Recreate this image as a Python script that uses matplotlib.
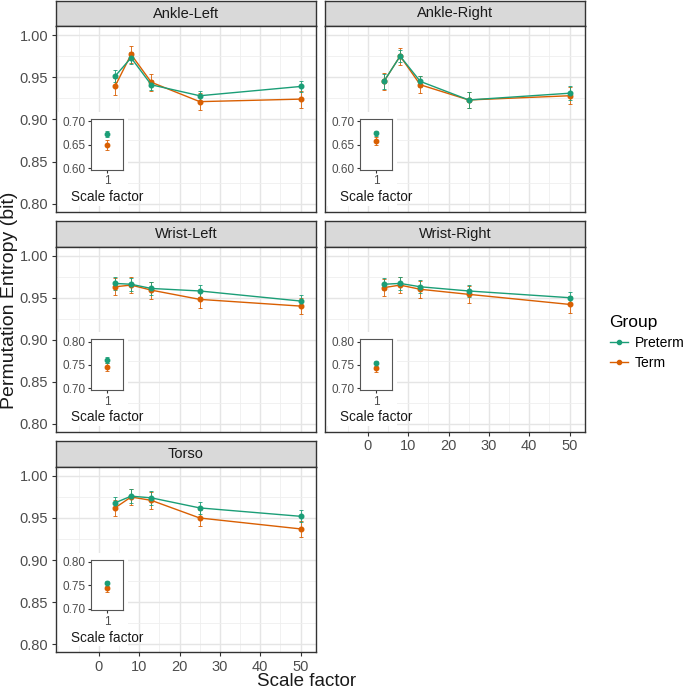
import matplotlib
matplotlib.use("Agg")
import matplotlib.pyplot as plt
from matplotlib.patches import Rectangle
from matplotlib.lines import Line2D
from matplotlib.ticker import MultipleLocator, FixedLocator

plt.rcParams['font.family'] = ['Liberation Sans', 'DejaVu Sans']

# ---------------- data ----------------
panels = ["Ankle-Left", "Ankle-Right", "Wrist-Left", "Wrist-Right", "Torso"]
groups = ["Preterm", "Term"]
scales = [4, 8, 13, 25, 50]

main_pre = {
    "Ankle-Left":  [0.951, 0.973, 0.941, 0.928, 0.939],
    "Ankle-Right": [0.945, 0.975, 0.945, 0.923, 0.931],
    "Wrist-Left":  [0.967, 0.966, 0.961, 0.958, 0.946],
    "Wrist-Right": [0.966, 0.967, 0.963, 0.958, 0.950],
    "Torso":       [0.968, 0.976, 0.974, 0.962, 0.952],
}
main_term = {
    "Ankle-Left":  [0.939, 0.977, 0.944, 0.921, 0.924],
    "Ankle-Right": [0.945, 0.975, 0.941, 0.923, 0.928],
    "Wrist-Left":  [0.963, 0.965, 0.959, 0.948, 0.940],
    "Wrist-Right": [0.962, 0.965, 0.960, 0.954, 0.942],
    "Torso":       [0.962, 0.975, 0.971, 0.950, 0.937],
}
err_pre = {
    "Ankle-Left":  [0.007, 0.007, 0.006, 0.006, 0.007],
    "Ankle-Right": [0.009, 0.007, 0.007, 0.009, 0.008],
    "Wrist-Left":  [0.008, 0.008, 0.008, 0.007, 0.007],
    "Wrist-Right": [0.007, 0.008, 0.008, 0.007, 0.007],
    "Torso":       [0.007, 0.008, 0.008, 0.007, 0.007],
}
err_term = {
    "Ankle-Left":  [0.010, 0.010, 0.010, 0.010, 0.010],
    "Ankle-Right": [0.010, 0.010, 0.010, 0.010, 0.010],
    "Wrist-Left":  [0.010, 0.010, 0.010, 0.010, 0.010],
    "Wrist-Right": [0.010, 0.010, 0.010, 0.010, 0.010],
    "Torso":       [0.010, 0.010, 0.010, 0.010, 0.010],
}
inset_scale = [1]
inset_pre = {"Ankle-Left": 0.673, "Ankle-Right": 0.674, "Wrist-Left": 0.761,
             "Wrist-Right": 0.753, "Torso": 0.754}
inset_term = {"Ankle-Left": 0.649, "Ankle-Right": 0.658, "Wrist-Left": 0.746,
              "Wrist-Right": 0.744, "Torso": 0.745}
inset_err_pre = {"Ankle-Left": 0.006, "Ankle-Right": 0.006, "Wrist-Left": 0.006,
                 "Wrist-Right": 0.006, "Torso": 0.006}
inset_err_term = {"Ankle-Left": 0.010, "Ankle-Right": 0.009, "Wrist-Left": 0.009,
                  "Wrist-Right": 0.009, "Torso": 0.009}
inset_ticks = {"Ankle-Left": [0.60, 0.65, 0.70], "Ankle-Right": [0.60, 0.65, 0.70],
               "Wrist-Left": [0.70, 0.75, 0.80], "Wrist-Right": [0.70, 0.75, 0.80],
               "Torso": [0.70, 0.75, 0.80]}
main_yticks = [0.80, 0.85, 0.90, 0.95, 1.00]
main_xticks = [0, 10, 20, 30, 40, 50]

colors = {"Preterm": "#1B9E77", "Term": "#D95F02"}

# ---------------- layout ----------------
W, H = 685, 691
fig = plt.figure(figsize=(W / 100, H / 100), dpi=100)

cols = [(56, 316), (325, 585)]
rows = [(1, 26, 211.7), (221, 246.7, 431.7), (441, 467, 652)]
pos = {"Ankle-Left": (0, 0), "Ankle-Right": (0, 1), "Wrist-Left": (1, 0),
       "Wrist-Right": (1, 1), "Torso": (2, 0)}

def fax(x0, y0, x1, y1):
    return fig.add_axes([x0 / W, 1 - y1 / H, (x1 - x0) / W, (y1 - y0) / H])

dark = "#333333"
tickc = "#4D4D4D"

for name in panels:
    r, c = pos[name]
    x0, x1 = cols[c]
    sy0, py0, py1 = rows[r]
    # strip
    sax = fax(x0, sy0, x1, py0)
    sax.set_facecolor("#D9D9D9")
    sax.set_xticks([]); sax.set_yticks([])
    for s in sax.spines.values():
        s.set_color(dark); s.set_linewidth(1.0)
    sax.text(0.5, 0.5, name, ha="center", va="center", fontsize=10.5,
             color="#1A1A1A", transform=sax.transAxes)

    ax = fax(x0, py0, x1, py1)
    ax.set_xlim(-10.6, 53.8)
    ax.set_ylim(0.7905, 1.0107)
    ax.xaxis.set_major_locator(FixedLocator(main_xticks))
    ax.xaxis.set_minor_locator(MultipleLocator(5))
    ax.yaxis.set_major_locator(FixedLocator(main_yticks))
    ax.yaxis.set_minor_locator(MultipleLocator(0.025))
    ax.set_axisbelow(True)
    ax.grid(True, which="major", color="#E5E5E5", lw=1.0)
    ax.grid(True, which="minor", color="#EFEFEF", lw=0.6)
    for s in ax.spines.values():
        s.set_color(dark); s.set_linewidth(1.0)
    ax.tick_params(which="minor", length=0)
    ax.tick_params(which="major", length=3, color=dark, labelcolor=tickc,
                   labelsize=10.5, width=0.8, pad=2.5)
    if c == 0:
        ax.set_yticklabels([f"{v:.2f}" for v in main_yticks])
    else:
        ax.tick_params(axis="y", length=0, labelleft=False)
    if name in ("Torso", "Wrist-Right"):
        ax.set_xticklabels([str(v) for v in main_xticks])
    else:
        ax.tick_params(axis="x", length=0, labelbottom=False)

    # white background behind inset
    ax.add_patch(Rectangle((0, 0.03), 0.277, 0.507, transform=ax.transAxes,
                           facecolor="white", edgecolor="none", zorder=1))

    for g, vals, errs in (("Term", main_term[name], err_term[name]),
                          ("Preterm", main_pre[name], err_pre[name])):
        col = colors[g]
        ax.errorbar(scales, vals, yerr=errs, color=col, lw=1.0, marker="o",
                    ms=3.3, capsize=1.5, elinewidth=0.6, capthick=0.6, zorder=3)

    # inset
    ix0 = x0 + 0.135 * (x1 - x0)
    ix1 = x0 + 0.258 * (x1 - x0)
    ph = py1 - py0
    iy0 = py0 + 0.50 * ph
    iy1 = py0 + 0.775 * ph
    iax = fax(ix0, iy0, ix1, iy1)
    t = inset_ticks[name]
    iax.set_ylim(t[0] - 0.004, t[-1] + 0.005)
    iax.set_xlim(0.9, 1.1)
    iax.set_yticks(t)
    iax.set_yticklabels([f"{v:.2f}" for v in t])
    iax.set_xticks(inset_scale)
    iax.set_xticklabels([str(v) for v in inset_scale])
    for s in iax.spines.values():
        s.set_color("#555555"); s.set_linewidth(0.8)
    iax.tick_params(length=2.5, color=dark, labelcolor=tickc, labelsize=8.5,
                    pad=1.5, width=0.8)
    for g, v, e in (("Term", inset_term[name], inset_err_term[name]),
                    ("Preterm", inset_pre[name], inset_err_pre[name])):
        iax.errorbar(inset_scale, [v], yerr=[e], color=colors[g], marker="o",
                     ms=3.2, capsize=1.3, elinewidth=0.6, capthick=0.6, lw=0)
    iax.set_xlabel("Scale factor", fontsize=9.8, color="#1A1A1A", labelpad=2)

# axis titles
fig.text(9.5 / W, 1 - 300 / H, "Permutation Entropy (bit)", rotation=90,
         ha="center", va="center", fontsize=14, color="#1A1A1A")
fig.text(307 / W, 1 - 685.5 / H, "Scale factor", ha="center", va="baseline",
         fontsize=13.5, color="#1A1A1A")

handles = [Line2D([], [], color=colors[g], marker="o", ms=3, lw=1.0)
           for g in groups]
leg = fig.legend(handles, groups, loc="upper left",
                 bbox_to_anchor=(604 / W, 1 - 309 / H), frameon=False,
                 title="Group", title_fontsize=12.5, fontsize=10,
                 handlelength=1.3, handletextpad=0.5, labelspacing=0.45,
                 alignment="left", borderaxespad=0)

fig.savefig("out.png", dpi=100)
